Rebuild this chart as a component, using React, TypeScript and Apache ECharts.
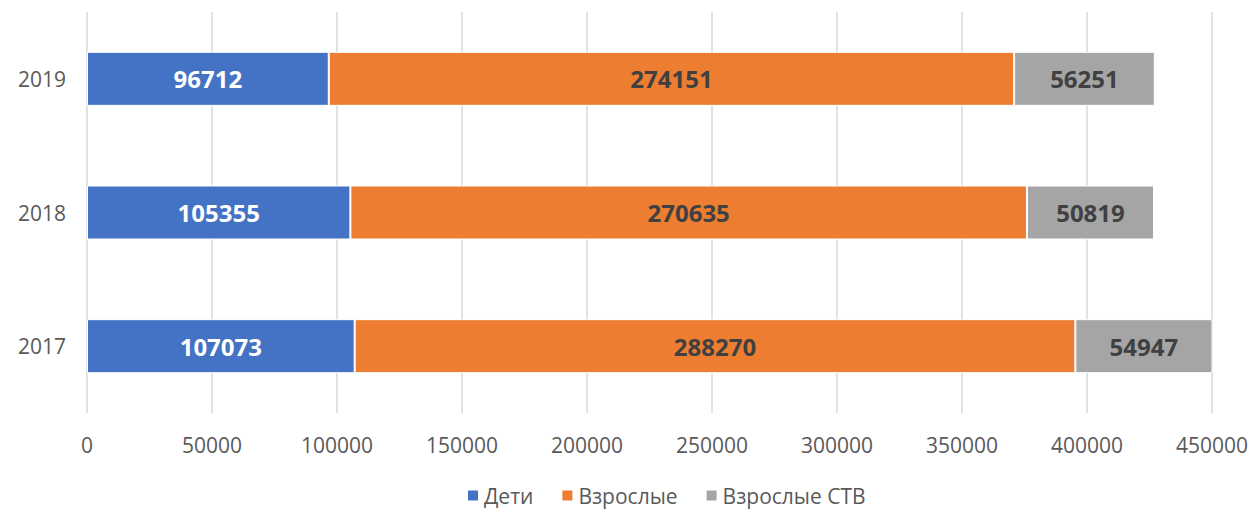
import React, { useEffect, useRef } from "react";
import * as echarts from "echarts";

const years = ["2017", "2018", "2019"];
const children = [107073, 105355, 96712];
const adults = [288270, 270635, 274151];
const adultsSTV = [54947, 50819, 56251];
const seriesNames = ["Дети", "Взрослые", "Взрослые СТВ"];
const colors = ["#4472C4", "#ED7D31", "#A5A5A5"];
const labelColors = ["#FFFFFF", "#404040", "#404040"];

export default function App() {
  const ref = useRef<HTMLDivElement>(null);
  useEffect(() => {
    if (!ref.current) return;
    const chart = echarts.init(ref.current, undefined, { renderer: "svg" });
    const data = [children, adults, adultsSTV];
    chart.setOption({
      animation: false,
      textStyle: { fontFamily: "Open Sans" },
      grid: { left: 87, right: 39, top: 12, bottom: 97, containLabel: false },
      legend: {
        bottom: -1,
        left: 461,
        itemWidth: 12,
        itemHeight: 12,
        itemGap: 27,
        icon: "rect",
        textStyle: { fontSize: 21, color: "#595959", fontFamily: "Open Sans", padding: [0, 0, 0, 0] },
        data: seriesNames,
      },
      xAxis: {
        type: "value",
        min: 0,
        max: 450000,
        interval: 50000,
        axisLine: { show: false },
        axisTick: { show: false },
        splitLine: { lineStyle: { color: "#D9D9D9", width: 1.5 } },
        axisLabel: {
          fontSize: 21,
          color: "#595959",
          margin: 21,
          fontFamily: "Open Sans",
          formatter: (v: number) => String(v),
        },
      },
      yAxis: {
        type: "category",
        data: years,
        axisLine: { show: false },
        axisTick: { show: false },
        axisLabel: { fontSize: 21, color: "#595959", margin: 21, fontFamily: "Open Sans" },
      },
      series: seriesNames.map((name, i) => ({
        name,
        type: "bar",
        stack: "total",
        barWidth: 54,
        data: data[i],
        itemStyle: { color: colors[i], borderColor: "#FFFFFF", borderWidth: 1 },
        label: {
          show: true,
          position: "inside",
          color: labelColors[i],
          fontWeight: "bold",
          fontSize: 24,
          fontFamily: "Open Sans",
        },
      })),
    });
    return () => chart.dispose();
  }, []);
  return (
    <div
      ref={ref}
      style={{ position: "fixed", left: 0, top: 0, width: 1251, height: 510, background: "#fff" }}
    />
  );
}
